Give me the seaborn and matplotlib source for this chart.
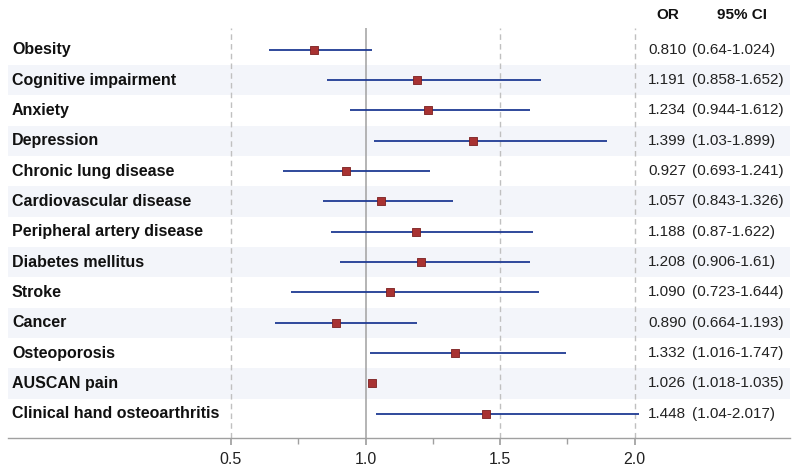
import matplotlib
matplotlib.use("Agg")
import matplotlib.pyplot as plt
import matplotlib.transforms as mtransforms
import seaborn as sns
import pandas as pd
import numpy as np

conditions = ["Obesity", "Cognitive impairment", "Anxiety", "Depression",
              "Chronic lung disease", "Cardiovascular disease",
              "Peripheral artery disease", "Diabetes mellitus", "Stroke",
              "Cancer", "Osteoporosis", "AUSCAN pain",
              "Clinical hand osteoarthritis"]
or_vals = [0.810, 1.191, 1.234, 1.399, 0.927, 1.057, 1.188, 1.208, 1.090,
           0.890, 1.332, 1.026, 1.448]
ci_low = [0.64, 0.858, 0.944, 1.03, 0.693, 0.843, 0.87, 0.906, 0.723,
          0.664, 1.016, 1.018, 1.04]
ci_high = [1.024, 1.652, 1.612, 1.899, 1.241, 1.326, 1.622, 1.61, 1.644,
           1.193, 1.747, 1.035, 2.017]
or_text = ["0.810", "1.191", "1.234", "1.399", "0.927", "1.057", "1.188",
           "1.208", "1.090", "0.890", "1.332", "1.026", "1.448"]
ci_text = ["(0.64-1.024)", "(0.858-1.652)", "(0.944-1.612)", "(1.03-1.899)",
           "(0.693-1.241)", "(0.843-1.326)", "(0.87-1.622)", "(0.906-1.61)",
           "(0.723-1.644)", "(0.664-1.193)", "(1.016-1.747)",
           "(1.018-1.035)", "(1.04-2.017)"]
xticks = [0.5, 1.0, 1.5, 2.0]
xtick_labels = ["0.5", "1.0", "1.5", "2.0"]

sns.set_theme(style="white")
plt.rcParams['font.family'] = ['Liberation Sans', 'DejaVu Sans']

df = pd.DataFrame({"cond": conditions, "OR": or_vals, "lo": ci_low,
                   "hi": ci_high, "y": np.arange(len(conditions))})

fig = plt.figure(figsize=(8, 4.73), dpi=100)
ax = fig.add_axes([8/800, 35/473, 782/800, (438-28)/473])

xmin = 0.5 - (231-8)/269
xmax = 0.5 + (790-231)/269
ax.set_xlim(xmin, xmax)
n = len(conditions)
ax.set_ylim(12.8, -0.72)

# alternating bands
for i in range(n):
    if i % 2 == 1:
        ax.axhspan(i - 0.5, i + 0.5, color="#f3f5fa", zorder=0, lw=0)

# reference lines
for xv in [0.5, 1.5, 2.0]:
    ax.axvline(xv, color="#c0c0c0", lw=1, ls=(0, (4, 3)), zorder=1)
ax.axvline(1.0, color="#a8a8a8", lw=1.2, zorder=1)

ax.hlines(df["y"], df["lo"], df["hi"], color="#1f3a93", lw=1.3, zorder=2)
sns.scatterplot(data=df, x="OR", y="y", marker="s", s=40, color="#a83232",
                edgecolor="#7a1f1f", linewidth=0.6, zorder=3, ax=ax,
                legend=False)

trans = mtransforms.blended_transform_factory(fig.transFigure, ax.transData)
for i in range(n):
    ax.text(12/800, i, conditions[i], transform=trans,
            ha="left", va="center", fontsize=11.5, fontweight="bold",
            color="#111111")
    ax.text(648/800, i, or_text[i], transform=trans,
            ha="left", va="center", fontsize=11, color="#222222")
    ax.text(692/800, i, ci_text[i], transform=trans,
            ha="left", va="center", fontsize=11, color="#222222")

fig.text(668/800, 1 - 15/473, "OR", ha="center", va="center", fontsize=11,
         fontweight="bold", color="#111111")
fig.text(742/800, 1 - 15/473, "95% CI", ha="center", va="center",
         fontsize=11, fontweight="bold", color="#111111")

ax.set_xticks(xticks)
ax.set_xticklabels(xtick_labels, fontsize=11.5, color="#222222")
ax.set_xticks([0.75, 1.25, 1.75], minor=True)
ax.set_yticks([])
ax.tick_params(axis="x", which="major", length=5, color="#a0a0a0",
               direction="out", bottom=True, pad=5)
ax.tick_params(axis="x", which="minor", length=4, color="#a0a0a0",
               direction="out", bottom=True)
ax.set_xlabel("")
ax.set_ylabel("")
for s in ["top", "left", "right"]:
    ax.spines[s].set_visible(False)
ax.spines["bottom"].set_color("#a0a0a0")
ax.spines["bottom"].set_linewidth(1)

fig.savefig("out.png", dpi=100, facecolor="white")
